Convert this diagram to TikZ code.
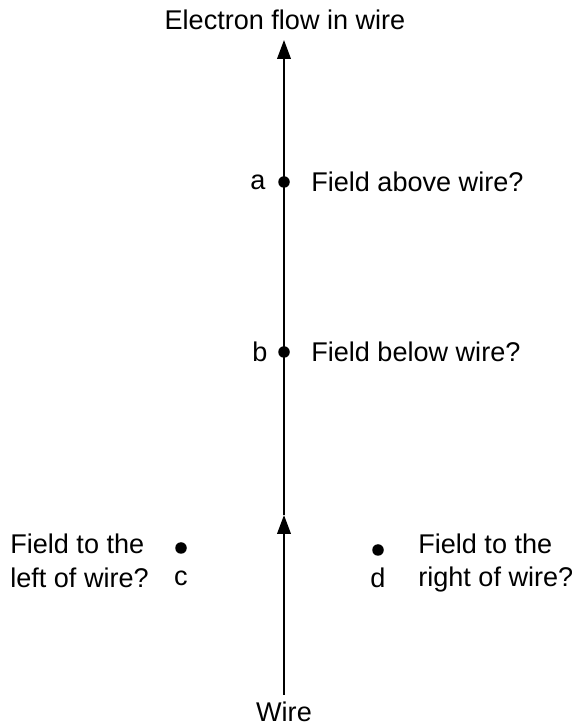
\documentclass[tikz,border=0pt]{standalone}
\usepackage{fontspec}
\setmainfont{Liberation Sans}
\usetikzlibrary{arrows.meta,positioning}

\begin{document}
\begin{tikzpicture}[
    font=\fontsize{15.4}{19}\selectfont,
    wirearrow/.style={line width=1.3pt,-{Triangle[length=0.38cm,width=0.27cm]}},
    dot/.style={circle,fill=black,inner sep=0pt,minimum size=0.23cm},
    txt/.style={inner sep=0pt,align=left}]
  \useasboundingbox (0,0) rectangle (11.44,14.52);
  % wire and electron flow
  \node[inner sep=0pt] (flow) at (5.7,14.12) {Electron flow in wire};
  \node[inner sep=0pt] (wire) at (5.68,0.28) {Wire};
  \coordinate (bot) at (5.68,0.62);
  \coordinate (mid) at (5.68,4.22);
  \coordinate (top) at (5.68,13.72);
  \draw[wirearrow] (bot) -- (mid);
  \draw[wirearrow] (mid) -- (top);
  % points on and beside the wire
  \node[dot] (a) at (5.68,10.88) {};
  \node[dot] (b) at (5.68,7.48) {};
  \node[dot] (c) at (3.62,3.56) {};
  \node[dot] (d) at (7.56,3.52) {};
  \node[txt] (alab) at (5.16,10.88) {a};
  \node[txt] (blab) at (5.20,7.48) {b};
  \node[txt] (clab) at (3.62,2.96) {c};
  \node[txt] (dlab) at (7.56,2.96) {d};
  \node[txt,anchor=west] (above) at (6.22,10.88) {Field above wire?};
  \node[txt,anchor=west] (below) at (6.22,7.48) {Field below wire?};
  \node[txt,anchor=west] (left) at (0.2,3.30) {Field to the\\left of wire?};
  \node[txt,anchor=west] (right) at (8.36,3.26) {Field to the\\right of wire?};
\end{tikzpicture}
\end{document}
